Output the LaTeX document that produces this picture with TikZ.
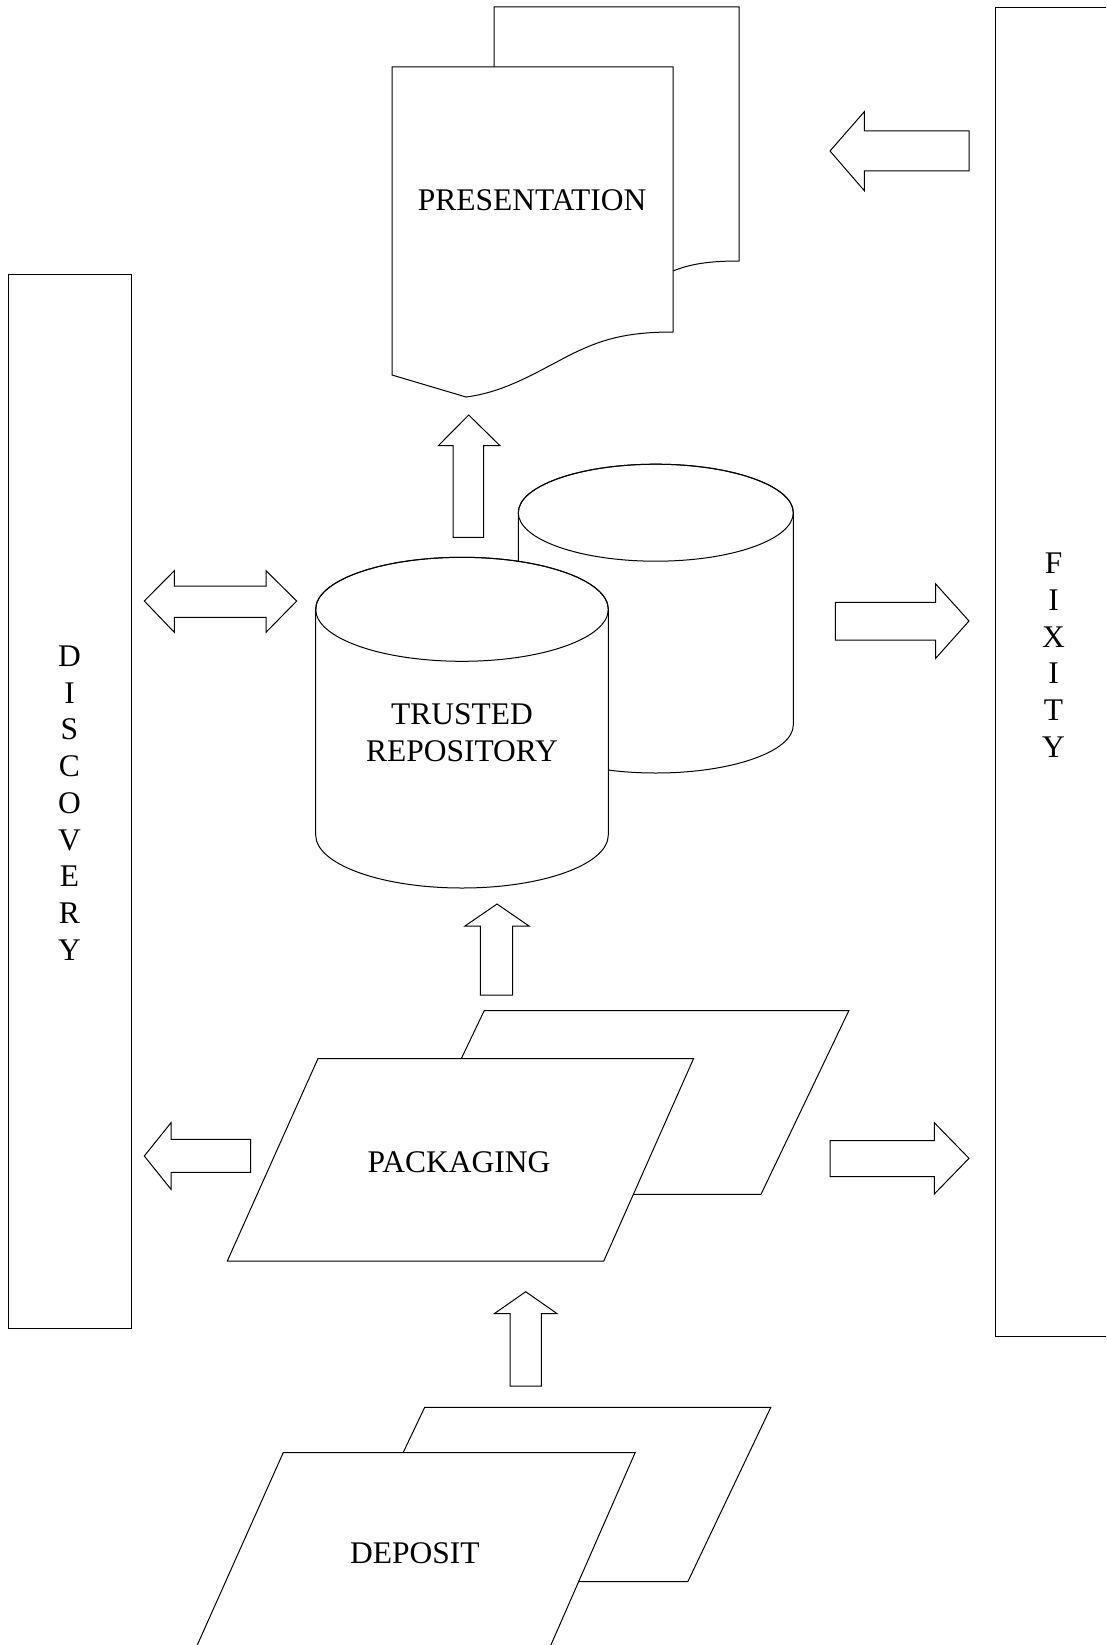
\documentclass[tikz,border=0pt]{standalone}
\usepackage{fontspec}
\setmainfont{Liberation Serif}
\begin{document}
\begin{tikzpicture}[x=1pt,y=-1pt,line width=1pt,line join=miter,
  shapebox/.style={draw=black,fill=white},
  blockarrow/.style={draw=black,fill=white,line join=miter},
  lbl/.style={font=\fontsize{31.5}{36.7}\selectfont,inner sep=0pt,align=center}]
\useasboundingbox (0,0) rectangle (1106,1645);
\clip (0,0) rectangle (1106,1645);

% side bars
\draw[shapebox] (995.7,7.3) rectangle (1130,1336);
\draw[shapebox] (8.4,274) rectangle (131,1328);
\node[lbl] (discovery) at (69.5,803) {D\\I\\S\\C\\O\\V\\E\\R\\Y};
\node[lbl] (fixity) at (1053.5,655.3) {F\\I\\X\\I\\T\\Y};

% presentation (multi-document)
\draw[shapebox] (494,7) -- (739,7) -- (739,261)
  .. controls (705,261) and (688,265) .. (673,271) -- (600,280) -- (494,280) -- cycle;
\draw[shapebox] (392,67) -- (673,67) -- (673,332)
  .. controls (625,332) and (600,340) .. (570,355)
  .. controls (535,373) and (505,392) .. (466,397) -- (392,375) -- cycle;
\node[lbl] (presentation) at (532,200) {PRESENTATION};

% trusted repository (two cylinders)
\draw[shapebox] (518.3,512.7) -- (518.3,725)
  arc[start angle=180,end angle=360,x radius=137.5pt,y radius=48pt]
  -- (793.3,512.7)
  arc[start angle=0,end angle=180,x radius=137.5pt,y radius=48.5pt] -- cycle;
\draw (655.8,512.7) ellipse [x radius=137.5pt,y radius=48.5pt];
\draw[shapebox] (315.7,609.3) -- (315.7,835)
  arc[start angle=180,end angle=360,x radius=146.3pt,y radius=53pt]
  -- (608.3,609.3)
  arc[start angle=0,end angle=180,x radius=146.3pt,y radius=52pt] -- cycle;
\draw (462,609.3) ellipse [x radius=146.3pt,y radius=52pt];
\node[lbl] (repository) at (462,732.5) {TRUSTED\\REPOSITORY};

% packaging (two parallelograms)
\draw[shapebox] (484.2,1010.7) -- (848.8,1010.7) -- (761,1194.3) -- (396.4,1194.3) -- cycle;
\draw[shapebox] (318,1058.5) -- (693.6,1058.5) -- (603.8,1261) -- (227.3,1261) -- cycle;
\node[lbl] (packaging) at (459,1162) {PACKAGING};

% deposit (two parallelograms)
\draw[shapebox] (424.7,1407.3) -- (770.8,1407.3) -- (687.8,1581.7) -- (341.7,1581.7) -- cycle;
\draw[shapebox] (283.2,1452.7) -- (635.1,1452.7) -- (526.8,1700) -- (172.7,1700) -- cycle;
\node[lbl] (deposit) at (414.8,1553.3) {DEPOSIT};

% block arrows
\draw[blockarrow] (969,131) -- (864.3,131) -- (864.3,111.7) -- (830,151)
  -- (864.3,190.7) -- (864.3,171) -- (969,171) -- cycle;
\draw[blockarrow] (453,537.3) -- (453,445.7) -- (438.3,445.7) -- (468.7,415)
  -- (500,445.7) -- (483.7,445.7) -- (483.7,537.3) -- cycle;
\draw[blockarrow] (144.3,601) -- (174.3,570.7) -- (174.3,586) -- (266,586)
  -- (266,570.7) -- (296.7,601) -- (266,632.3) -- (266,617.3)
  -- (174.3,617.3) -- (174.3,632.3) -- cycle;
\draw[blockarrow] (835.3,602.3) -- (935.7,602.3) -- (935.7,584) -- (969,621)
  -- (935.7,658.3) -- (935.7,640) -- (835.3,640) -- cycle;
\draw[blockarrow] (480.3,995) -- (480.3,926) -- (465,926) -- (497,904)
  -- (529,926) -- (512.7,926) -- (512.7,995) -- cycle;
\draw[blockarrow] (250.7,1139.3) -- (171,1139.3) -- (171,1122.7) -- (144.3,1156)
  -- (171,1189.3) -- (171,1172.3) -- (250.7,1172.3) -- cycle;
\draw[blockarrow] (830,1140.7) -- (934.3,1140.7) -- (934.3,1122.7) -- (969,1158.3)
  -- (934.3,1194) -- (934.3,1176.7) -- (830,1176.7) -- cycle;
\draw[blockarrow] (510,1386) -- (510,1313.7) -- (494.2,1313.7) -- (525.7,1291.7)
  -- (557.2,1313.7) -- (541.4,1313.7) -- (541.4,1386) -- cycle;
\end{tikzpicture}
\end{document}
